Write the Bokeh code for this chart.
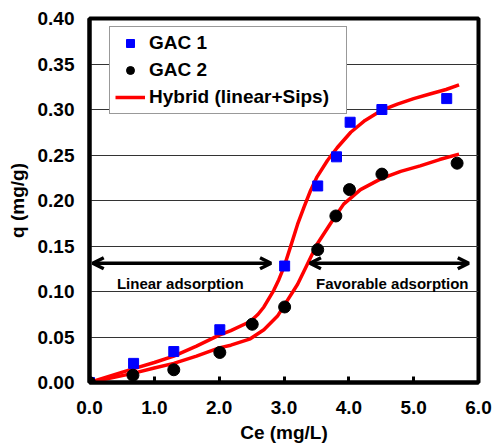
from bokeh.plotting import figure
from bokeh.models import (Range1d, FixedTicker, PrintfTickFormatter, Legend, LegendItem,
                          Arrow, OpenHead, Label)
from bokeh.embed import file_html
from bokeh.resources import INLINE

# ---- data ----
gac1_ce = [0.0, 0.68, 1.30, 2.01, 3.01, 3.52, 3.81, 4.02, 4.51, 5.51]
gac1_q = [0.000, 0.021, 0.034, 0.058, 0.128, 0.216, 0.248, 0.286, 0.300, 0.312]

gac2_ce = [0.0, 0.67, 1.30, 2.01, 2.51, 3.01, 3.52, 3.80, 4.01, 4.51, 5.67]
gac2_q = [0.000, 0.008, 0.014, 0.033, 0.064, 0.083, 0.146, 0.183, 0.212, 0.229, 0.241]

fit1_ce = [0.0, 0.67, 1.0, 1.3, 1.65, 2.0, 2.18, 2.48, 2.6, 2.69, 2.84, 2.92, 3.0, 3.10,
           3.21, 3.31, 3.41, 3.51, 3.67, 3.82, 4.03, 4.25, 4.5, 4.75, 5.0, 5.25, 5.5, 5.7]
fit1_q = [0.0, 0.015, 0.022, 0.029, 0.040, 0.052, 0.057, 0.067, 0.075, 0.083, 0.101, 0.113,
          0.127, 0.149, 0.174, 0.193, 0.211, 0.226, 0.244, 0.258, 0.275, 0.288, 0.299, 0.306,
          0.312, 0.317, 0.322, 0.327]

fit2_ce = [0.0, 0.67, 1.0, 1.3, 1.65, 2.0, 2.18, 2.48, 2.69, 2.9, 3.05, 3.21, 3.36, 3.51,
           3.72, 3.92, 4.18, 4.5, 4.8, 5.1, 5.4, 5.7]
fit2_q = [0.0, 0.010, 0.016, 0.021, 0.029, 0.038, 0.041, 0.048, 0.058, 0.073, 0.090, 0.108,
          0.130, 0.152, 0.175, 0.196, 0.212, 0.224, 0.232, 0.238, 0.245, 0.251]

x_ticks = [0, 1, 2, 3, 4, 5, 6]
y_ticks = [0.0, 0.05, 0.10, 0.15, 0.20, 0.25, 0.30, 0.35, 0.40]

linear_span = (0.05, 2.80)
favorable_span = (3.40, 5.85)
arrow_q = 0.131
region_text_q = 0.109
linear_text_ce = 1.40
favorable_text_ce = 4.67

FONT = "Liberation Sans"

p = figure(width=494, height=445, output_backend="svg", toolbar_location=None,
           x_range=Range1d(0, 6), y_range=Range1d(0, 0.4),
           min_border_left=89, min_border_right=16, min_border_top=18, min_border_bottom=63)
p.background_fill_color = "white"
p.border_fill_color = "white"
p.outline_line_color = "black"
p.outline_line_width = 4

p.xgrid.visible = False
p.ygrid.ticker = FixedTicker(ticks=y_ticks)
p.ygrid.grid_line_color = "#333333"
p.ygrid.grid_line_width = 1

xa = p.xaxis[0]
xa.ticker = FixedTicker(ticks=x_ticks)
xa.formatter = PrintfTickFormatter(format="%.1f")
xa.major_tick_in = 6
xa.major_tick_out = 0
xa.major_tick_line_width = 3
xa.minor_tick_line_color = None
xa.axis_line_width = 4
xa.axis_label = "Ce (mg/L)"

ya = p.yaxis[0]
ya.ticker = FixedTicker(ticks=y_ticks)
ya.formatter = PrintfTickFormatter(format="%.2f")
ya.major_tick_in = 0
ya.major_tick_out = 0
ya.minor_tick_line_color = None
ya.axis_line_width = 4
ya.axis_label = "q (mg/g)"

for ax in (xa, ya):
    ax.major_label_text_font = FONT
    ax.major_label_text_font_style = "bold"
    ax.major_label_text_font_size = "19px"
    ax.major_label_text_color = "black"
    ax.axis_label_text_font = FONT
    ax.axis_label_text_font_style = "bold"
    ax.axis_label_text_font_size = "19px"
    ax.axis_label_text_color = "black"
xa.major_label_standoff = 18
xa.axis_label_standoff = 5
ya.major_label_standoff = 15
ya.axis_label_standoff = 7

# fitted curves
l1 = p.line(fit1_ce, fit1_q, line_color="red", line_width=3.5, line_join="round")
l2 = p.line(fit2_ce, fit2_q, line_color="red", line_width=3.5, line_join="round")
# data points
s1 = p.scatter(gac1_ce, gac1_q, marker="square", size=10, fill_color="#0000ff", line_color="#0000ff")
c2 = p.scatter(gac2_ce, gac2_q, marker="circle", size=12, fill_color="black", line_color="black")

# region arrows
for a, b in (linear_span, favorable_span):
    p.add_layout(Arrow(x_start=a, y_start=arrow_q, x_end=b, y_end=arrow_q,
                       line_width=3.5, line_color="black",
                       start=OpenHead(size=11, line_width=3.5, line_color="black"),
                       end=OpenHead(size=11, line_width=3.5, line_color="black")))

for txt, xc in (("Linear adsorption", linear_text_ce), ("Favorable adsorption", favorable_text_ce)):
    p.add_layout(Label(x=xc, y=region_text_q, text=txt, text_align="center",
                       text_baseline="middle", text_font=FONT, text_font_style="bold",
                       text_font_size="15px", text_color="black"))

legend = Legend(items=[LegendItem(label="GAC 1", renderers=[s1]),
                       LegendItem(label="GAC 2", renderers=[c2]),
                       LegendItem(label="Hybrid (linear+Sips)", renderers=[l1])],
                location=(20, 268))
legend.label_text_font = FONT
legend.label_text_font_style = "bold"
legend.label_text_font_size = "19px"
legend.label_text_color = "black"
legend.label_standoff = 4
legend.glyph_width = 30
legend.glyph_height = 20
legend.label_height = 20
legend.label_width = 192
legend.spacing = 5
legend.padding = 5
legend.margin = 0
legend.border_line_color = "#333333"
legend.border_line_width = 1
legend.background_fill_color = "white"
legend.background_fill_alpha = 1
p.add_layout(legend)

open("out.html", "w").write(file_html(p, INLINE))
